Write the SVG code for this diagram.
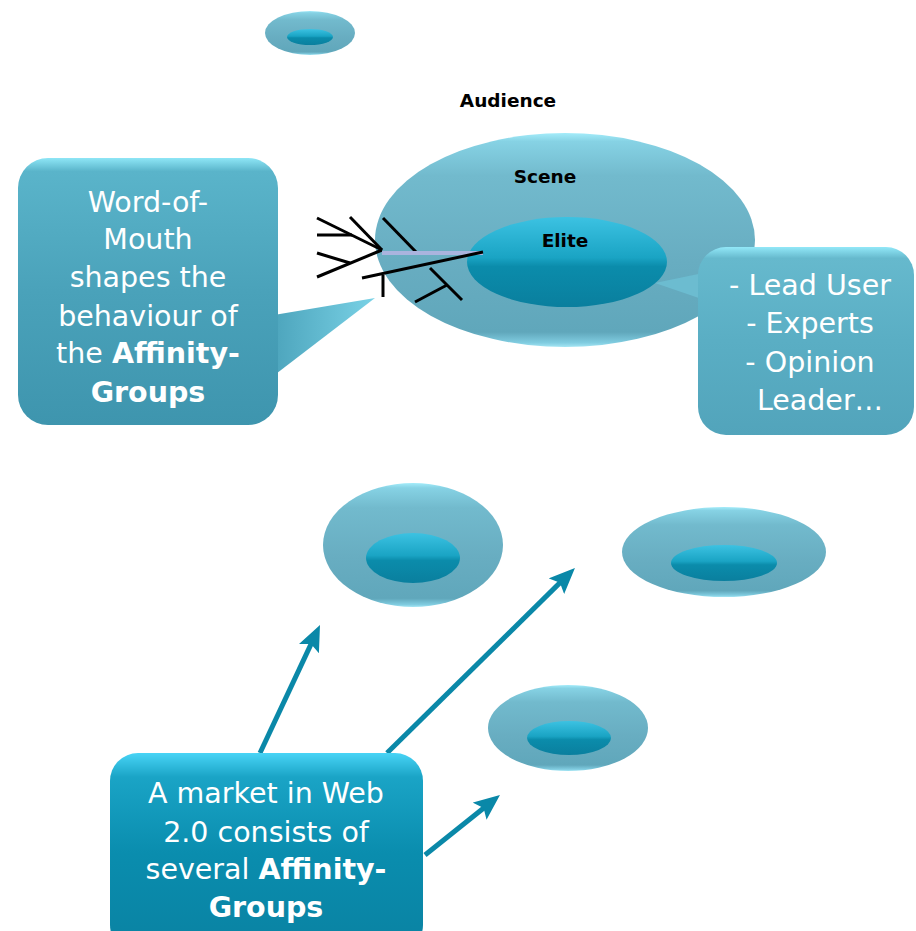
<svg xmlns="http://www.w3.org/2000/svg" width="916" height="931" viewBox="0 0 916 931">
<defs>
<linearGradient id="gOuter" x1="0" y1="0" x2="0" y2="1">
<stop offset="0" stop-color="#a4ecfa"/>
<stop offset="0.04" stop-color="#86d2e4"/>
<stop offset="0.2" stop-color="#72bacd"/>
<stop offset="0.6" stop-color="#68adc1"/>
<stop offset="0.93" stop-color="#60a7bb"/>
<stop offset="0.98" stop-color="#80cce0"/>
<stop offset="1" stop-color="#a4e6f4"/>
</linearGradient>
<linearGradient id="gInner" x1="0" y1="0" x2="0" y2="1">
<stop offset="0" stop-color="#3cc2e2"/>
<stop offset="0.45" stop-color="#1aa4c4"/>
<stop offset="0.55" stop-color="#0b8cab"/>
<stop offset="1" stop-color="#0a7f9e"/>
</linearGradient>
<linearGradient id="gCallL" x1="0" y1="0" x2="0" y2="1">
<stop offset="0" stop-color="#8ee6f6"/>
<stop offset="0.05" stop-color="#5ab4ca"/>
<stop offset="0.5" stop-color="#4aa2ba"/>
<stop offset="1" stop-color="#3e95ae"/>
</linearGradient>
<linearGradient id="gCallR" x1="0" y1="0" x2="0" y2="1">
<stop offset="0" stop-color="#92e8f8"/>
<stop offset="0.06" stop-color="#66b9cd"/>
<stop offset="0.5" stop-color="#5aaec4"/>
<stop offset="1" stop-color="#52a4bb"/>
</linearGradient>
<linearGradient id="gCallB" x1="0" y1="0" x2="0" y2="1">
<stop offset="0" stop-color="#48d4f6"/>
<stop offset="0.12" stop-color="#1aa4c6"/>
<stop offset="0.5" stop-color="#0a8dae"/>
<stop offset="1" stop-color="#0a82a2"/>
</linearGradient>
<linearGradient id="gTail" x1="0" y1="0" x2="1" y2="0">
<stop offset="0" stop-color="#4aa2ba"/>
<stop offset="1" stop-color="#7ad2e6"/>
</linearGradient>
<marker id="ah" viewBox="0 0 26 22" markerWidth="26" markerHeight="22" refX="14" refY="11" orient="auto" markerUnits="userSpaceOnUse">
<path d="M0,0 L26,11 L0,22 L5,11 z" fill="#0a88a8"/>
</marker>
</defs>
<style>
.outer{fill:url(#gOuter);}
.inner{fill:url(#gInner);}
.wt{font-family:"DejaVu Sans","Liberation Sans",sans-serif;fill:#ffffff;text-anchor:middle;font-size:28.5px;}
.bt{font-family:"DejaVu Sans","Liberation Sans",sans-serif;fill:#000000;text-anchor:middle;font-size:18.5px;font-weight:bold;}
.b{font-weight:bold;}
.scr{stroke:#000000;stroke-width:3;fill:none;stroke-linecap:butt;}
.arr{stroke:#0a88a8;stroke-width:5;fill:none;marker-end:url(#ah);}
</style>

<g id="group-top-small">
<ellipse class="outer" cx="310" cy="33" rx="45" ry="22"/>
<ellipse class="inner" cx="310" cy="37" rx="23" ry="8"/>
</g>

<text id="label-audience" class="bt" x="508" y="107">Audience</text>

<g id="scene">
<ellipse class="outer" cx="565" cy="240" rx="190" ry="107"/>
<text class="bt" x="545" y="183">Scene</text>
</g>

<g id="elite">
<ellipse class="inner" cx="567" cy="262" rx="100" ry="45"/>
<text class="bt" x="565" y="247">Elite</text>
</g>

<g id="word-of-mouth-scribble">
<line class="scr" x1="317" y1="218" x2="382" y2="250"/>
<line class="scr" x1="350" y1="217" x2="382" y2="250"/>
<line class="scr" x1="317" y1="235" x2="352" y2="235" stroke-width="4"/>
<line class="scr" x1="317" y1="253" x2="350" y2="263"/>
<line class="scr" x1="317" y1="277" x2="382" y2="250"/>
<line class="scr" x1="383" y1="218" x2="417" y2="253"/>
<line x1="382" y1="253" x2="483" y2="253" stroke="#aab4de" stroke-width="4"/>
<line class="scr" x1="362" y1="278" x2="483" y2="252"/>
<line class="scr" x1="383" y1="275" x2="383" y2="297"/>
<line class="scr" x1="430" y1="268" x2="462" y2="300"/>
<line class="scr" x1="415" y1="302" x2="447" y2="285"/>
</g>

<g id="callout-word-of-mouth">
<polygon points="268,316 375,298 268,380" fill="url(#gTail)"/>
<rect x="18" y="158" width="260" height="267" rx="30" fill="url(#gCallL)"/>
<text class="wt" x="148" y="212">Word-of-</text>
<text class="wt" x="148" y="249">Mouth</text>
<text class="wt" x="148" y="287">shapes the</text>
<text class="wt" x="148" y="326">behaviour of</text>
<text class="wt" x="148" y="363">the <tspan class="b">Affinity-</tspan></text>
<text class="wt b" x="148" y="402">Groups</text>
</g>

<g id="callout-elite">
<polygon points="708,272 655,283 728,308" fill="#6cbcd0"/>
<rect x="698" y="247" width="216" height="188" rx="28" fill="url(#gCallR)"/>
<text class="wt" x="810" y="295" font-size="28">- Lead User</text>
<text class="wt" x="810" y="333" font-size="28">- Experts</text>
<text class="wt" x="810" y="372" font-size="28">- Opinion</text>
<text class="wt" x="820" y="410" font-size="28">Leader…</text>
</g>

<g id="group-mid-left">
<ellipse class="outer" cx="413" cy="545" rx="90" ry="62"/>
<ellipse class="inner" cx="413" cy="558" rx="47" ry="25"/>
</g>

<g id="group-mid-right">
<ellipse class="outer" cx="724" cy="552" rx="102" ry="45"/>
<ellipse class="inner" cx="724" cy="563" rx="53" ry="18"/>
</g>

<g id="group-bottom">
<ellipse class="outer" cx="568" cy="728" rx="80" ry="43"/>
<ellipse class="inner" cx="569" cy="738" rx="42" ry="17"/>
</g>

<g id="connectors">
<line class="arr" x1="260" y1="753" x2="314.9" y2="635.9"/>
<line class="arr" x1="387" y1="753" x2="566.4" y2="576.4"/>
<line class="arr" x1="425" y1="855" x2="490.6" y2="802.5"/>
</g>

<g id="callout-market">
<rect x="110" y="753" width="313" height="200" rx="28" fill="url(#gCallB)"/>
<text class="wt" x="266" y="803">A market in Web</text>
<text class="wt" x="266" y="842">2.0 consists of</text>
<text class="wt" x="266" y="879">several <tspan class="b">Affinity-</tspan></text>
<text class="wt b" x="266" y="917">Groups</text>
</g>
</svg>
